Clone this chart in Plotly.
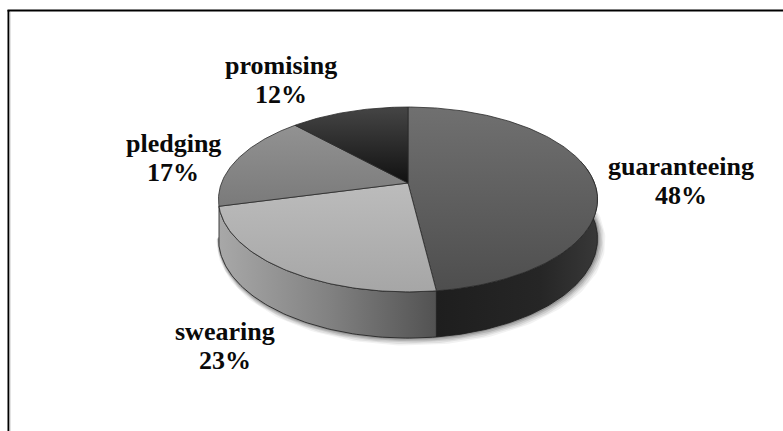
import numpy as np
import plotly.graph_objects as go

categories = ["guaranteeing", "swearing", "pledging", "promising"]
percent = [48, 23, 17, 12]
top_grad = [("#707070", "#4e4e4e"), ("#bcbcbc", "#a6a6a6"), ("#929292", "#7a7a7a"), ("#454545", "#111111")]
label_xy = [(681, 166), (225, 331), (173, 143), (281, 65)]

CX, CY, R, B, K, H = 408, 183, 186.5, 89.5, 0.178, 38


def project(theta, z=0.0):
    u, v = np.sin(theta), -np.cos(theta)
    s = 1 / (1 - K * v)
    return CX + R * u * s, CY + B * v * s + H * z * s


def arc(a, b, z=0.0):
    n = max(3, int(abs(b - a) * 60))
    return project(np.linspace(a, b, n), z)


fig = go.Figure()


def poly(x, y, **kw):
    fig.add_trace(go.Scatter(x=list(x), y=list(y), mode="lines", fill="toself", hoverinfo="skip",
                             showlegend=False, **kw))


edges = np.cumsum([0] + percent) / 100 * 2 * np.pi

# soft shadow under the front rim
for off, alpha in [(5, 0.05), (4, 0.07), (3, 0.09), (2, 0.12), (1, 0.16)]:
    x, y = arc(np.pi * 0.42, np.pi * 1.45, 1.0)
    fig.add_trace(go.Scatter(x=x + 0.6 * off, y=y + off * 0.5, mode="lines", hoverinfo="skip", showlegend=False,
                             line=dict(color=f"rgba(0,0,0,{alpha})", width=2 * off)))

# side wall
side_specs = [
    (np.pi * 0.42, edges[1], [[0, "#1e1e1e"], [0.65, "#262626"], [1, "#383838"]]),
    (edges[1], edges[2], [[0, "#a8a8a8"], [0.5, "#828282"], [1, "#525252"]]),
]
for a, b, stops in side_specs:
    xt, yt = arc(a, b, 0)
    xb, yb = arc(a, b, 1)
    x = np.r_[xt, xb[::-1], xt[0]]
    y = np.r_[yt, yb[::-1], yt[0]]
    poly(x, y, line=dict(color="#1a1a1a", width=0.8),
         fillgradient=dict(type="horizontal", colorscale=stops))

# top faces
for i, (c, (c0, c1)) in enumerate(zip(categories, top_grad)):
    xa, ya = arc(edges[i], edges[i + 1])
    x = np.r_[CX, xa, CX]
    y = np.r_[CY, ya, CY]
    poly(x, y, line=dict(color="#2a2a2a", width=0.8),
         fillgradient=dict(type="vertical", colorscale=[[0, c1], [1, c0]]), name=c)

annotations = []
for c, p, (lx, ly) in zip(categories, percent, label_xy):
    for text, dy in ((c, 0), (f"{p}%", 29)):
        annotations.append(dict(x=lx, y=ly + dy, text=f"<b>{text}</b>", showarrow=False, xref="x", yref="y",
                                font=dict(family="Liberation Serif", size=26, color="#0a0a0a"),
                                xanchor="center", yanchor="middle"))

shapes = [
    dict(type="line", x0=7.5, x1=783, y0=10.5, y1=10.5, line=dict(color="#000", width=2), layer="below"),
    dict(type="line", x0=8.5, x1=8.5, y0=10, y1=431, line=dict(color="#000", width=2), layer="below"),
    dict(type="line", x0=10, x1=10, y0=12, y1=431, line=dict(color="#c8c8c8", width=1), layer="below"),
]

fig.update_layout(
    width=783, height=431, margin=dict(l=0, r=0, t=0, b=0), paper_bgcolor="white", plot_bgcolor="white",
    xaxis=dict(range=[0, 783], visible=False, fixedrange=True),
    yaxis=dict(range=[431, 0], visible=False, fixedrange=True),
    annotations=annotations, shapes=shapes, showlegend=False,
)
fig.write_html("out.html", config={"displayModeBar": False},
               post_script="document.body.style.margin='0';document.body.style.overflow='hidden';")
